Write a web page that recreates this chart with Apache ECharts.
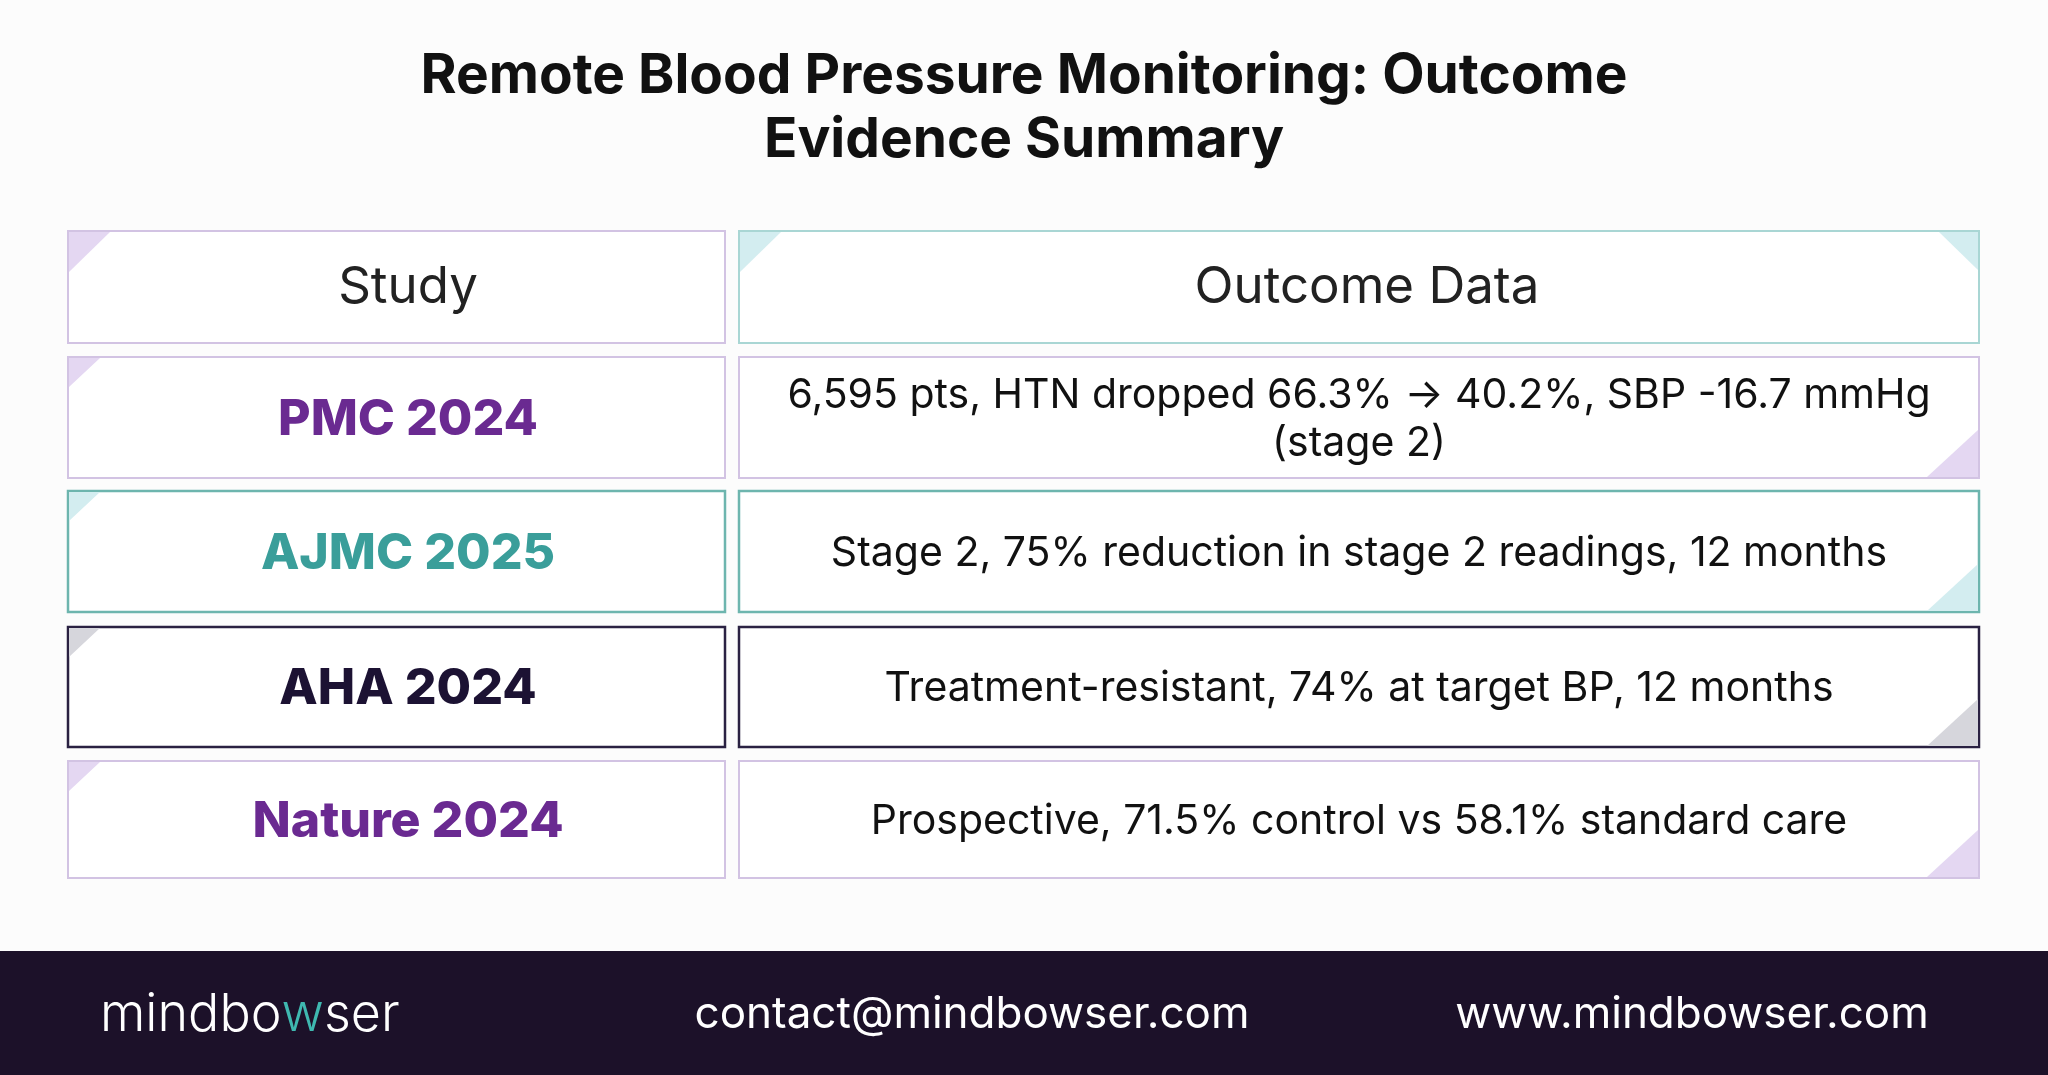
<!DOCTYPE html>
<html>
<head>
<meta charset="utf-8">
<script src="https://cdn.jsdelivr.net/npm/echarts@6/dist/echarts.min.js"></script>
<style>html,body{margin:0;padding:0;background:#fcfcfc}#main{width:2048px;height:1075px}</style>
</head>
<body>
<div id="main"></div>
<script>
// table content
const titleLines = ['Remote Blood Pressure Monitoring: Outcome', 'Evidence Summary'];
const headers = ['Study', 'Outcome Data'];
const studies = ['PMC 2024', 'AJMC 2025', 'AHA 2024', 'Nature 2024'];
const outcomes = [
    '6,595 pts, HTN dropped 66.3% \u2192 40.2%, SBP -16.7 mmHg\n(stage 2)',
    'Stage 2, 75% reduction in stage 2 readings, 12 months',
    'Treatment-resistant, 74% at target BP, 12 months',
    'Prospective, 71.5% control vs 58.1% standard care'
];
const themes = ['purple', 'teal', 'dark', 'purple'];

const palette = {
    purple: { text: '#6a2a91', border: '#d2c3e3', corner: '#e4d7f2' },
    teal: { text: '#3a9e9a', border: '#6db5ae', corner: '#d3edf0' },
    dark: { text: '#1c1233', border: '#2a2142', corner: '#d6d6dc' }
};

const font = 'Inter, "Open Sans", sans-serif';
const leftX = 68, leftW = 657, rightX = 739, rightW = 1240;
const leftCenter = 408;
const rowTops = [357, 491, 627, 761];
const rowHs = [121, 121, 120, 117];

const elements = [];

function cell(x, y, w, h, border, lw) {
    elements.push({
        type: 'rect',
        shape: { x: x, y: y, width: w, height: h },
        style: { fill: '#ffffff', stroke: border, lineWidth: lw }
    });
}
function tri(points, color) {
    elements.push({ type: 'polygon', shape: { points: points }, style: { fill: color } });
}
function label(x, y, text, size, weight, color, lh) {
    elements.push({
        type: 'text',
        x: x, y: y,
        style: {
            text: text, fill: color, font: weight + ' ' + size + 'px ' + font,
            align: 'center', verticalAlign: 'middle', lineHeight: lh || size * 1.2
        }
    });
}

// title
label(1024, 108, titleLines.join('\n'), 55, 'bold', '#111111', 64);

// header row
cell(leftX, 231, leftW, 112, palette.purple.border, 2);
tri([[leftX + 1, 232], [leftX + 42, 232], [leftX + 1, 272]], palette.purple.corner);
label(leftCenter, 288, headers[0], 51, 'normal', '#222222');
cell(rightX, 231, rightW, 112, '#a9d6d4', 2);
tri([[rightX + 1, 232], [rightX + 42, 232], [rightX + 1, 272]], palette.teal.corner);
tri([[rightX + rightW - 40, 232], [rightX + rightW - 1, 232], [rightX + rightW - 1, 270]], palette.teal.corner);
label(rightX + rightW / 2 + 8, 288, headers[1], 51, 'normal', '#222222');

studies.forEach(function (s, i) {
    const p = palette[themes[i]];
    const y = rowTops[i], h = rowHs[i];
    const lw = themes[i] === 'purple' ? 2 : 2.5;
    cell(leftX, y, leftW, h, p.border, lw);
    tri([[leftX + 1, y + 1], [leftX + 32, y + 1], [leftX + 1, y + 30]], p.corner);
    label(leftCenter, y + h / 2 + 2, s, 50, '800', p.text);
    cell(rightX, y, rightW, h, p.border, lw);
    tri([[rightX + rightW - 1, y + h - 48], [rightX + rightW - 1, y + h - 1], [rightX + rightW - 52, y + h - 1]], p.corner);
    label(rightX + rightW / 2, y + h / 2 + 2, outcomes[i], 41, 'normal', '#111111', 48);
});

// footer
elements.push({ type: 'rect', shape: { x: 0, y: 951, width: 2048, height: 124 }, style: { fill: '#1c1129' } });
elements.push({
    type: 'text', x: 100, y: 1015,
    style: {
        text: '{a|mindbo}{b|w}{a|ser}', verticalAlign: 'middle',
        rich: {
            a: { fill: '#ffffff', font: '300 52px ' + font },
            b: { fill: '#3fb8b0', font: '300 52px ' + font }
        }
    }
});
label(972, 1015, 'contact@mindbowser.com', 44, 'normal', '#ffffff');
label(1692, 1015, 'www.mindbowser.com', 44, 'normal', '#ffffff');

const chart = echarts.init(document.getElementById('main'));
chart.setOption({
    backgroundColor: '#fcfcfc',
    animation: false,
    graphic: { elements: elements }
});
</script>
</body>
</html>
